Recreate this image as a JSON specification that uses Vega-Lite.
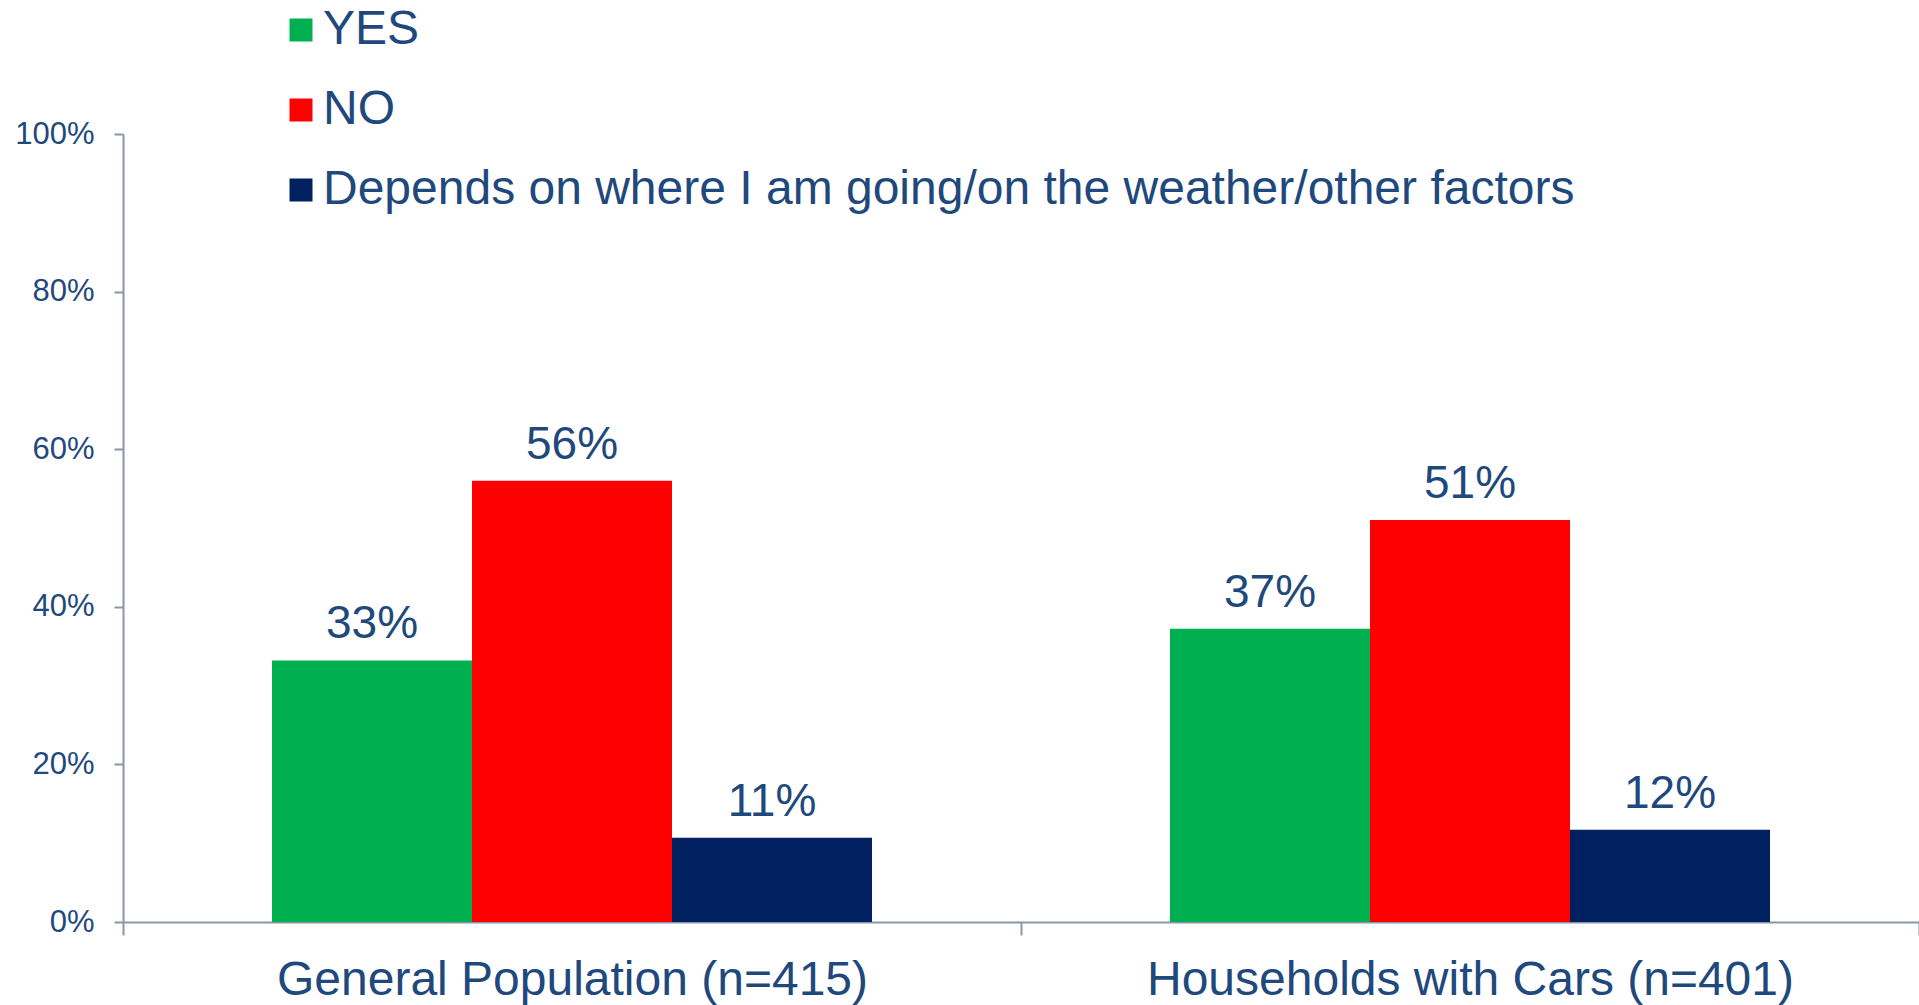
{
  "$schema": "https://vega.github.io/schema/vega-lite/v6.json",
  "autosize": {"type": "none"},
  "padding": {"left": 123, "top": 134, "right": 0, "bottom": 83},
  "width": 1796,
  "height": 788,
  "background": "white",
  "config": {
    "view": {"stroke": null},
    "font": "Liberation Sans",
    "axis": {"domainColor": "#8A96AA", "tickColor": "#8A96AA", "domainWidth": 2, "tickWidth": 2, "labelColor": "#1F497D", "labelFont": "Liberation Sans", "grid": false, "title": null}
  },
  "data": {
    "values": [
      {"group": "General Population (n=415)", "answer": "YES", "value": 0.332},
      {"group": "General Population (n=415)", "answer": "NO", "value": 0.56},
      {"group": "General Population (n=415)", "answer": "Depends on where I am going/on the weather/other factors", "value": 0.107},
      {"group": "Households with Cars (n=401)", "answer": "YES", "value": 0.372},
      {"group": "Households with Cars (n=401)", "answer": "NO", "value": 0.51},
      {"group": "Households with Cars (n=401)", "answer": "Depends on where I am going/on the weather/other factors", "value": 0.117}
    ]
  },
  "encoding": {
    "x": {
      "field": "group", "type": "nominal", "sort": null,
      "scale": {"paddingInner": 0, "paddingOuter": 0},
      "axis": {"labelAngle": 0, "labelFontSize": 48, "labelLimit": 2000, "tickBand": "extent", "tickSize": 13, "labelPadding": 21, "labelBaseline": "top"}
    },
    "xOffset": {"field": "answer", "type": "nominal", "sort": ["YES", "NO", "Depends on where I am going/on the weather/other factors"], "scale": {"paddingInner": 0, "paddingOuter": 0.745}},
    "y": {
      "field": "value", "type": "quantitative",
      "scale": {"domain": [0, 1], "nice": false},
      "axis": {"values": [0, 0.2, 0.4, 0.6, 0.8, 1], "format": ".0%", "labelFontSize": 31, "tickSize": 9, "labelPadding": 20}
    }
  },
  "layer": [
    {
      "mark": {"type": "bar"},
      "encoding": {
        "color": {
          "field": "answer", "type": "nominal",
          "scale": {"domain": ["YES", "NO", "Depends on where I am going/on the weather/other factors"], "range": ["#00B050", "#FF0000", "#002060"]},
          "legend": {"title": null, "orient": "none", "legendX": 154, "legendY": -128, "symbolType": "square", "symbolSize": 529, "symbolStrokeWidth": 0, "labelFontSize": 48, "labelColor": "#1F497D", "labelFont": "Liberation Sans", "rowPadding": 32, "labelOffset": -2, "labelLimit": 2000}
        }
      }
    },
    {
      "mark": {"type": "text", "baseline": "alphabetic", "dy": -22, "fontSize": 46, "color": "#1F497D", "font": "Liberation Sans"},
      "encoding": {
        "text": {"field": "value", "type": "quantitative", "format": ".0%"}
      }
    }
  ]
}
